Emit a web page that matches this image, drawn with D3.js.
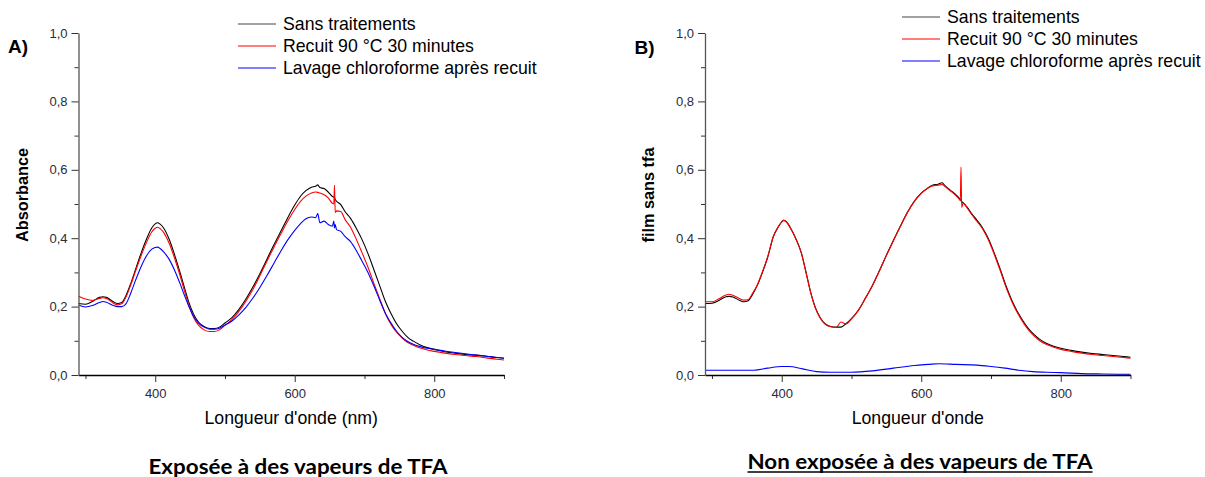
<!DOCTYPE html>
<html>
<head>
<meta charset="utf-8">
<script src="https://cdn.jsdelivr.net/npm/d3@7"></script>
<style>
  html, body { margin: 0; padding: 0; background: #fff; }
  svg { display: block; font-family: "Liberation Sans", Arial, sans-serif; }
</style>
</head>
<body>
<svg id="chart" width="1205" height="477"></svg>
<script>
// ---------- data ----------
const seriesNames = ["Sans traitements", "Recuit 90 °C 30 minutes", "Lavage chloroforme après recuit"];
const seriesColors = ["#000000", "#ff0000", "#0000ff"];
const xMajorTicks = [400, 600, 800];
const xMinorTicks = [300, 500, 700, 900];
const yMajorTicks = [0, 0.2, 0.4, 0.6, 0.8, 1.0];
const yMinorTicks = [0.1, 0.3, 0.5, 0.7, 0.9];

const wl = [290,300,310,320,325,330,340,346,352,358,365,372,380,388,395,400,403,407,412,420,428,436,442,448,455,462,470,478,485,492,500,510,520,530,540,550,560,570,580,590,600,608,616,624,630,633,636,642,648,654,656,657,658,660,666,672,680,688,696,705,714,722,730,738,746,754,762,770,780,790,800,815,830,845,860,875,890,900];

// Panel A (exposée)
const aBlack = [.209,.207,.215,.227,.229,.227,.214,.209,.212,.232,.268,.31,.358,.40,.43,.442,.445,.441,.43,.397,.35,.297,.255,.214,.178,.155,.142,.136,.136,.14,.152,.168,.192,.222,.257,.296,.338,.38,.42,.46,.497,.522,.539,.549,.552,.556,.548,.545,.535,.522,.52,.518,.514,.508,.498,.478,.458,.43,.398,.355,.305,.26,.215,.18,.15,.128,.11,.099,.088,.08,.075,.068,.064,.06,.058,.055,.051,.049];
const aRed = [.23,.222,.218,.224,.226,.224,.21,.205,.208,.228,.264,.305,.35,.39,.418,.429,.432,.428,.417,.385,.34,.288,.245,.205,.168,.146,.132,.127,.127,.132,.145,.162,.186,.216,.25,.29,.332,.373,.412,.45,.484,.507,.523,.532,.535,.534,.532,.527,.518,.502,.5,.555,.475,.48,.478,.455,.432,.398,.36,.315,.265,.222,.18,.148,.125,.108,.095,.087,.079,.073,.069,.064,.06,.057,.054,.05,.046,.044];
const aBlue = [.205,.199,.203,.212,.215,.213,.203,.2,.2,.208,.24,.278,.318,.35,.368,.373,.374,.37,.36,.338,.305,.265,.232,.202,.172,.152,.14,.134,.134,.137,.146,.158,.176,.198,.225,.256,.29,.326,.362,.395,.423,.442,.457,.462,.46,.472,.445,.45,.44,.435,.45,.43,.44,.425,.42,.405,.39,.365,.335,.3,.258,.218,.18,.152,.128,.11,.098,.09,.083,.078,.075,.07,.066,.062,.058,.055,.051,.049];

// Panel B (non exposée)
const bBlack = [.209,.21,.218,.229,.23,.228,.218,.214,.217,.235,.262,.298,.345,.405,.433,.448,.452,.448,.432,.4,.358,.29,.238,.198,.168,.15,.142,.14,.14,.15,.165,.19,.225,.262,.305,.35,.393,.435,.475,.508,.532,.545,.555,.558,.562,.556,.55,.54,.53,.518,.513,.51,.507,.504,.49,.473,.452,.43,.4,.355,.305,.258,.218,.185,.158,.135,.118,.104,.092,.084,.078,.072,.067,.063,.06,.057,.054,.052];
const bRed = [.214,.214,.223,.234,.236,.233,.223,.219,.221,.238,.264,.3,.347,.405,.433,.448,.452,.447,.431,.399,.357,.289,.237,.197,.167,.149,.141,.139,.155,.149,.164,.189,.224,.261,.304,.349,.392,.434,.474,.507,.531,.544,.553,.555,.557,.553,.548,.538,.528,.515,.51,.608,.49,.502,.488,.47,.449,.427,.396,.351,.301,.254,.214,.181,.154,.131,.114,.1,.089,.081,.075,.069,.064,.06,.057,.054,.051,.049];
const bBlueWl = [290,320,360,380,400,410,430,450,470,500,530,560,590,610,625,650,680,700,720,740,760,780,800,830,860,900];
const bBlue = [.014,.014,.014,.02,.025,.025,.018,.01,.008,.008,.012,.02,.028,.031,.033,.031,.029,.025,.02,.014,.01,.008,.007,.004,.003,.002];

// ---------- drawing ----------
const svg = d3.select("#chart");
const yRange = [375, 33];
const fmt = d => d.toFixed(1).replace(".", ",");

function panel(opts) {
  const x = d3.scaleLinear().domain([290, 900]).range(opts.xr);
  const y = d3.scaleLinear().domain([0, 1]).range(yRange);
  const g = svg.append("g");

  // lines
  const line = d3.line().x(d => x(d[0])).y(d => y(d[1])).curve(d3.curveMonotoneX);
  opts.series.forEach((s, i) => {
    g.append("path")
      .datum(d3.zip(s.wl, s.v))
      .attr("fill", "none")
      .attr("stroke", seriesColors[i])
      .attr("stroke-width", 1.1)
      .attr("d", line);
  });

  // x axis
  const xMinor = g.append("g").attr("transform", `translate(0,${yRange[0]})`)
    .call(d3.axisBottom(x).tickValues(xMinorTicks).tickSize(4).tickSizeOuter(0).tickFormat(""));
  xMinor.select(".domain").remove();
  xMinor.selectAll("line").attr("stroke", "#333");
  const xAx = g.append("g").attr("transform", `translate(0,${yRange[0]})`)
    .call(d3.axisBottom(x).tickValues(xMajorTicks).tickSize(7).tickPadding(7).tickSizeOuter(0).tickFormat(d3.format("d")));
  xAx.select(".domain").attr("stroke", "#000").attr("stroke-width", 1.3);
  xAx.selectAll("line").attr("stroke", "#333");
  xAx.selectAll("text").attr("font-size", 13).attr("fill", "#2b2b3a").attr("font-family", "Liberation Sans, Arial, sans-serif");

  // y axis
  const yMinor = g.append("g").attr("transform", `translate(${opts.xr[0]},0)`)
    .call(d3.axisLeft(y).tickValues(yMinorTicks).tickSize(4).tickSizeOuter(0).tickFormat(""));
  yMinor.select(".domain").remove();
  yMinor.selectAll("line").attr("stroke", "#333");
  const yAx = g.append("g").attr("transform", `translate(${opts.xr[0]},0)`)
    .call(d3.axisLeft(y).tickValues(yMajorTicks).tickSize(7).tickPadding(4).tickSizeOuter(0).tickFormat(fmt));
  yAx.select(".domain").attr("stroke", "#555").attr("stroke-width", 1.3);
  yAx.selectAll("line").attr("stroke", "#333");
  yAx.selectAll("text").attr("font-size", 13).attr("fill", "#2b2b3a").attr("font-family", "Liberation Sans, Arial, sans-serif");

  // axis titles
  g.append("text")
    .attr("x", (opts.xr[0] + opts.xr[1]) / 2).attr("y", 424)
    .attr("text-anchor", "middle").attr("font-size", 17.7).attr("fill", "#000")
    .text(opts.xTitle);
  g.append("text")
    .attr("transform", `translate(${opts.xr[0] - 51},195) rotate(-90)`)
    .attr("text-anchor", "middle").attr("font-size", 16.3).attr("font-weight", "bold").attr("fill", "#000")
    .text(opts.yTitle);

  // panel letter
  g.append("text").attr("x", opts.xr[0] - 70.5).attr("y", opts.letterY)
    .attr("font-size", 19).attr("font-weight", "bold").text(opts.letter);

  // legend
  seriesNames.forEach((name, i) => {
    const ly = opts.legY + i * 22;
    g.append("line").attr("x1", opts.legX).attr("x2", opts.legX + 38)
      .attr("y1", ly).attr("y2", ly)
      .attr("stroke", i === 0 ? "#444" : seriesColors[i]).attr("stroke-width", 1.2);
    g.append("text").attr("x", opts.legX + 45).attr("y", ly).attr("dy", "0.35em")
      .attr("font-size", 17.7).attr("fill", "#000").text(name);
  });

  // caption
  const cap = g.append("text").attr("x", opts.capX).attr("y", opts.capY)
    .attr("text-anchor", "middle")
    .attr("font-family", "Lato, 'Open Sans', sans-serif")
    .attr("font-weight", "bold").attr("font-size", 20)
    .attr("textLength", opts.capW).attr("lengthAdjust", "spacingAndGlyphs")
    .attr("fill", "#000").text(opts.caption);
  if (opts.underline) {
    g.append("line").attr("x1", opts.capX - opts.capW / 2).attr("x2", opts.capX + opts.capW / 2)
      .attr("y1", opts.capY + 3).attr("y2", opts.capY + 3)
      .attr("stroke", "#000").attr("stroke-width", 1.5);
  }
}

panel({
  xr: [78.5, 504],
  series: [{wl: wl, v: aBlack}, {wl: wl, v: aRed}, {wl: wl, v: aBlue}],
  xTitle: "Longueur d'onde (nm)", yTitle: "Absorbance",
  letter: "A)", letterY: 53,
  legX: 238, legY: 24,
  caption: "Exposée à des vapeurs de TFA", capX: 298, capY: 474, capW: 299, underline: false
});

panel({
  xr: [705, 1130.5],
  series: [{wl: wl, v: bBlack}, {wl: wl, v: bRed}, {wl: bBlueWl, v: bBlue}],
  xTitle: "Longueur d'onde", yTitle: "film sans tfa",
  letter: "B)", letterY: 54,
  legX: 902, legY: 17,
  caption: "Non exposée à des vapeurs de TFA", capX: 920, capY: 469, capW: 345, underline: true
});
</script>
</body>
</html>
